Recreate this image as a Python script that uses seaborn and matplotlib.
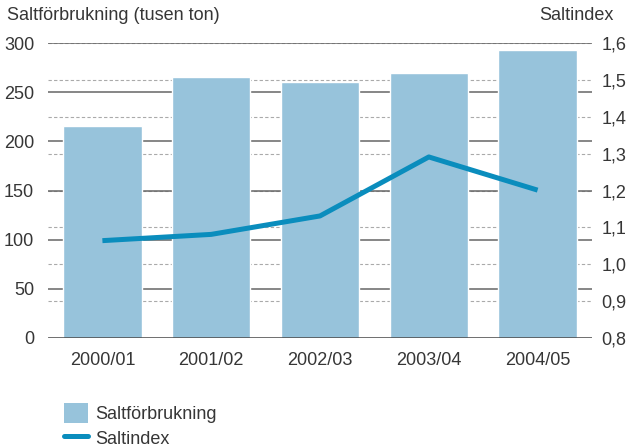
import matplotlib
matplotlib.use("Agg")
import matplotlib.pyplot as plt
import seaborn as sns
import pandas as pd
from matplotlib.patches import Patch
from matplotlib.lines import Line2D

periods = ["2000/01", "2001/02", "2002/03", "2003/04", "2004/05"]
salt_use = [216, 265, 260, 270, 293]          # tusen ton
salt_index = [1.064, 1.081, 1.131, 1.291, 1.201]

left_ticks = [0, 50, 100, 150, 200, 250, 300]
right_ticks = [0.8, 0.9, 1.0, 1.1, 1.2, 1.3, 1.4, 1.5, 1.6]

bar_color = "#97c3db"
line_color = "#0a8dbd"
text_color = "#363636"
fs = 13

sns.set_style("white")
plt.rcParams['font.family'] = ['Liberation Sans', 'DejaVu Sans']

df = pd.DataFrame({"period": periods, "use": salt_use, "index": salt_index})

fig = plt.figure(figsize=(6.3, 4.47), dpi=100)
ax = fig.add_axes([48 / 630, 1 - 338 / 447, 544 / 630, 295 / 447])

# dashed lines for the right-hand scale, drawn behind the bars
for v in right_ticks[1:]:
    ax.axhline((v - 0.8) / 0.8 * 300, color="#aaaaaa", lw=0.8,
               ls=(0, (3, 2)), zorder=0)
for v in left_ticks[1:]:
    ax.axhline(v, color="#666666", lw=1.1, zorder=0.5)
ax.axhline(0, color="#444444", lw=1.8, zorder=3)

sns.barplot(data=df, x="period", y="use", color=bar_color, width=0.72,
            saturation=1, ax=ax, zorder=2)
ax.set_xlim(-0.5, 4.5)
ax.set_ylim(0, 300)
ax.set_yticks(left_ticks)
ax.set_xlabel("")
ax.set_ylabel("")
for s in ax.spines.values():
    s.set_visible(False)
ax.tick_params(axis="both", length=0, labelsize=fs, colors=text_color)
ax.tick_params(axis="y", pad=10)
ax.tick_params(axis="x", pad=10)

ax2 = ax.twinx()
sns.lineplot(data=df, x="period", y="index", color=line_color, lw=3.6,
             sort=False, ax=ax2, solid_joinstyle="round", solid_capstyle="butt")
ax2.set_ylim(0.8, 1.6)
ax2.set_yticks(right_ticks)
ax2.set_yticklabels([f"{v:.1f}".replace(".", ",") for v in right_ticks])
ax2.set_ylabel("")
ax2.set_xlim(-0.5, 4.5)
for s in ax2.spines.values():
    s.set_visible(False)
ax2.tick_params(axis="y", length=0, labelsize=fs, colors=text_color, pad=7)

fig.text(7 / 630, 1 - 15 / 447, "Saltförbrukning (tusen ton)", fontsize=fs,
         color=text_color, va="center", ha="left")
fig.text(614 / 630, 1 - 15 / 447, "Saltindex", fontsize=fs,
         color=text_color, va="center", ha="right")

handles = [Patch(facecolor=bar_color, edgecolor="none"),
           Line2D([], [], color=line_color, lw=3.6)]
fig.legend(handles, ["Saltförbrukning", "Saltindex"], loc="upper left",
           bbox_to_anchor=(55 / 630, 1 - 394 / 447), frameon=False,
           fontsize=fs, handlelength=1.3, handleheight=1.3,
           labelspacing=0.3, handletextpad=0.4, borderpad=0,
           labelcolor=text_color)

fig.savefig("out.png", dpi=100)
